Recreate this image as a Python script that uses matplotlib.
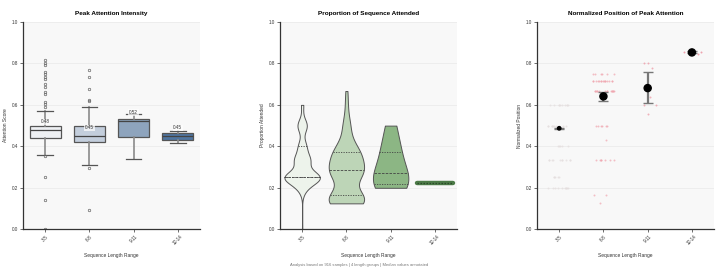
import numpy as np
import matplotlib
matplotlib.use("Agg")
import matplotlib.pyplot as plt

plt.rcParams['font.family'] = ['Liberation Sans', 'DejaVu Sans']

# Группы длин последовательностей
groups = ["3-5", "6-8", "9-11", "12-14"]

# Панель 1: статистика боксплотов (пик внимания)
box_q1 = [0.442, 0.419, 0.447, 0.431]
box_med = [0.478, 0.449, 0.522, 0.449]
box_q3 = [0.500, 0.497, 0.534, 0.463]
box_lo = [0.357, 0.312, 0.339, 0.415]
box_hi = [0.571, 0.589, 0.556, 0.472]
fliers = [
    [0.816, 0.804, 0.793, 0.759, 0.749, 0.736, 0.724, 0.699, 0.688, 0.664,
     0.653, 0.613, 0.603, 0.591, 0.354, 0.251, 0.140, 0.0],
    [0.767, 0.736, 0.678, 0.625, 0.617, 0.297, 0.092],
    [],
    [],
]
box_colors = ["#eef0f3", "#c3cedc", "#8ea4bd", "#4f75a0"]

# Панель 2: доля последовательности (значение -> количество)
prop_vals = [
    [0.0, 0.2, 0.25, 0.333, 0.4, 0.5, 0.6],
    [0.125, 0.143, 0.167, 0.25, 0.286, 0.333, 0.375, 0.429, 0.5, 0.571, 0.625, 0.667],
    [0.2, 0.222, 0.273, 0.364, 0.4, 0.5],
    [0.222],
]
prop_counts = [
    [2, 30, 180, 80, 40, 50, 12],
    [30, 15, 20, 20, 30, 20, 25, 10, 10, 3, 2, 2],
    [2, 1, 2, 1, 1, 1],
    [3],
]
violin_colors = ["#edf3eb", "#bdd5b7", "#8cb684", "#4c7a47"]

# Панель 3: нормализованная позиция пика
pos_vals = [
    [0.2, 0.25, 0.333, 0.4, 0.5, 0.6],
    [0.125, 0.167, 0.333, 0.429, 0.5, 0.667, 0.714, 0.75],
    [0.556, 0.6, 0.636, 0.778, 0.8],
    [0.846, 0.857],
]
pos_counts = [
    [10, 5, 10, 5, 10, 10],
    [1, 2, 7, 1, 6, 15, 15, 6],
    [1, 2, 1, 1, 2],
    [1, 2],
]
pos_mean = [0.487, 0.641, 0.681, 0.853]
pos_lo = [0.485, 0.618, 0.609, 0.848]
pos_hi = [0.489, 0.661, 0.759, 0.858]
strip_colors = ["#e4dede", "#f0a4ae", "#ee93a0", "#ea8090"]

fig = plt.figure(figsize=(7.18, 2.71), dpi=100)
lefts = [0.032, 0.390, 0.748]
axes = [fig.add_axes([l, 0.154, 0.2465, 0.765]) for l in lefts]

titles = ["Peak Attention Intensity", "Proportion of Sequence Attended",
          "Normalized Position of Peak Attention"]
ylabels = ["Attention Score", "Proportion Attended", "Normalized Position"]

for ax, t, yl in zip(axes, titles, ylabels):
    ax.set_facecolor('#f8f8f8')
    ax.set_xlim(-0.5, 3.5)
    ax.set_ylim(0, 1)
    ax.set_yticks(np.arange(0, 1.01, 0.2))
    ax.yaxis.set_major_formatter('{x:.1f}')
    ax.grid(axis='y', color='#e9e9e9', lw=0.5)
    ax.set_axisbelow(True)
    for s in ('top', 'right'):
        ax.spines[s].set_visible(False)
    for s in ('left', 'bottom'):
        ax.spines[s].set_color('#333333')
        ax.spines[s].set_linewidth(0.9)
    ax.tick_params(labelsize=3.3, length=2, width=0.5, colors='#333333', pad=1.5)
    ax.set_xticks(range(4))
    ax.set_xticklabels(groups, rotation=45)
    ax.set_xlabel("Sequence Length Range", fontsize=3.5, labelpad=5, color='#333333')
    ax.set_ylabel(yl, fontsize=3.5, labelpad=3, color='#333333')
    ax.set_title(t, fontsize=4.6, fontweight='bold', pad=5)

# Боксплоты
ax = axes[0]
stats = []
for i in range(4):
    stats.append(dict(q1=box_q1[i], med=box_med[i], q3=box_q3[i],
                      whislo=box_lo[i], whishi=box_hi[i], fliers=fliers[i]))
bp = ax.bxp(stats, positions=range(4), widths=0.7, patch_artist=True,
            boxprops=dict(edgecolor='#555555', linewidth=0.9),
            medianprops=dict(color='#444444', linewidth=0.9),
            whiskerprops=dict(color='#8a8a8a', linewidth=1.2),
            capprops=dict(color='#555555', linewidth=0.9),
            flierprops=dict(marker='o', markersize=1.8, markerfacecolor='none',
                            markeredgecolor='#666666', markeredgewidth=0.5),
            manage_ticks=False)
for patch, c in zip(bp['boxes'], box_colors):
    patch.set_facecolor(c)
for i, m in enumerate(box_med):
    ax.text(i, m + 0.04, f"{m:.2f}", ha='center', va='center', fontsize=3.3,
            color='#333333',
            bbox=dict(facecolor='white', edgecolor='none', alpha=0.7, pad=0.6))

# Скрипичные диаграммы
ax = axes[1]
for i in range(4):
    data = np.repeat(prop_vals[i], prop_counts[i])
    q = np.percentile(data, [25, 50, 75])
    c = violin_colors[i]
    if data.std() == 0:
        ax.plot([i - 0.4, i + 0.4], [data[0], data[0]], color=c, lw=3.2,
                solid_capstyle='round')
        ax.plot([i - 0.4, i + 0.4], [data[0], data[0]], color='#2c4a2a', lw=0.9,
                ls=(0, (1.2, 1.2)))
        continue
    bw = data.std(ddof=1) * len(data) ** (-0.2)
    grid = np.linspace(data.min(), data.max(), 300)
    dens = np.exp(-0.5 * ((grid[:, None] - data[None, :]) / bw) ** 2).sum(axis=1)
    dens = dens / dens.max() * 0.4
    ax.fill_betweenx(grid, i - dens, i + dens, facecolor=c, edgecolor='#555555',
                     linewidth=0.7)
    for k, qq in enumerate(q):
        w = np.interp(qq, grid, dens)
        ls = (0, (3, 1.5)) if k == 1 else (0, (1.5, 1.5))
        ax.plot([i - w, i + w], [qq, qq], color='#444444', lw=0.6, ls=ls)

# Стрип-плот + средние с доверительными интервалами
ax = axes[2]
rng = np.random.default_rng(7)
for i in range(4):
    ys = np.repeat(pos_vals[i], pos_counts[i])
    xs = i + rng.uniform(-0.25, 0.25, len(ys))
    ax.scatter(xs, ys, s=2, color=strip_colors[i], alpha=0.7, linewidths=0)
yerr = [np.subtract(pos_mean, pos_lo), np.subtract(pos_hi, pos_mean)]
ax.errorbar(range(4), pos_mean, yerr=yerr, fmt='none', ecolor='#777777',
            elinewidth=1.6, capsize=3.6, capthick=1.0)
ax.scatter(range(4), pos_mean, s=[6, 26, 26, 26], color='black', zorder=5)

fig.text(0.5, 0.022, "Analysis based on 916 samples | 4 length groups | Median values annotated",
         ha='center', va='center', fontsize=3.0, color='#777777')

fig.savefig("out.png", dpi=100)
